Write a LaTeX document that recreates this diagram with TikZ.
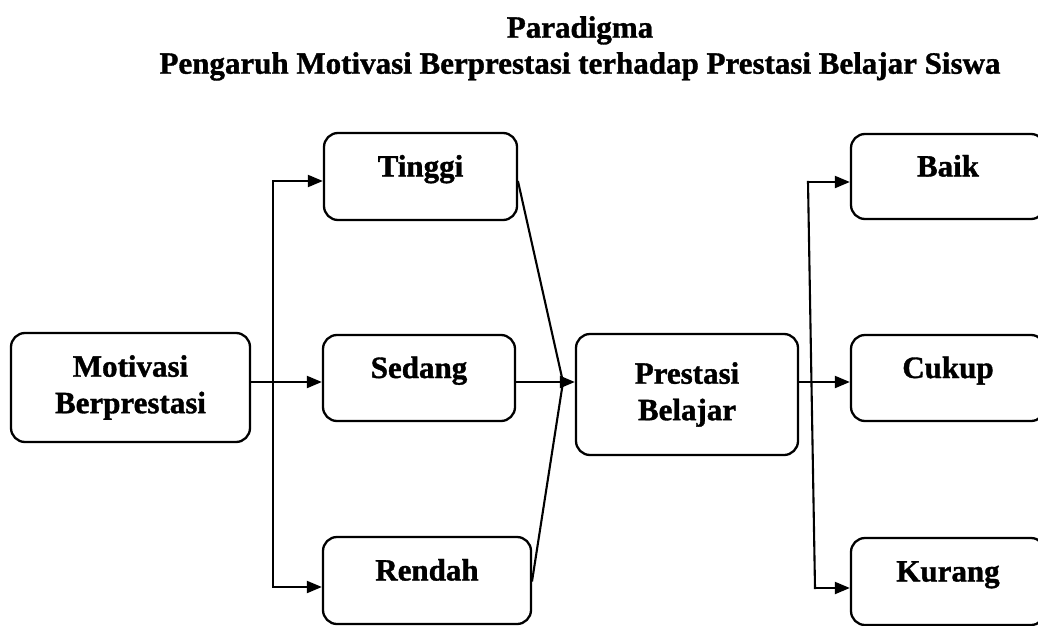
\documentclass[tikz,border=0pt]{standalone}
\usepackage{fontspec}
\setmainfont{Liberation Serif}[BoldFeatures={FakeBold=1.2}]
\usetikzlibrary{arrows.meta}

\begin{document}
\begin{tikzpicture}[x=1pt,y=-1pt,
    box/.style={draw, line width=2.3pt, rounded corners=14pt, inner sep=0pt,
      font=\fontsize{31}{36.5}\selectfont\bfseries, align=center},
    onerow/.style={box, text height=10pt, text depth=10pt},
    ln/.style={line width=2.1pt, line cap=rect},
    arr/.style={ln, -{Triangle[length=15pt,width=12pt]}}]
  \useasboundingbox (0,0) rectangle (1038,626);
  \clip (0,0) rectangle (1038,626);

  \node[anchor=north, inner sep=0pt, align=center,
    font=\fontsize{31}{36}\selectfont\bfseries] (title) at (580,16)
    {Paradigma\\Pengaruh Motivasi Berprestasi terhadap Prestasi Belajar Siswa};

  \node[box, minimum width=239pt, minimum height=109pt] (motiv) at (130.5,387.5) {Motivasi\\Berprestasi};
  \node[onerow, minimum width=193pt, minimum height=87pt] (tinggi) at (420.5,176.5) {Tinggi};
  \node[onerow, minimum width=192pt, minimum height=86pt] (sedang) at (419,378) {Sedang};
  \node[onerow, minimum width=208pt, minimum height=87pt] (rendah) at (427,580.5) {Rendah};
  \node[box, minimum width=222pt, minimum height=121pt] (prest) at (687,394.5) {Prestasi\\Belajar};
  \node[onerow, minimum width=194pt, minimum height=85pt] (baik) at (948,176.5) {Baik};
  \node[onerow, minimum width=194pt, minimum height=86pt] (cukup) at (948,378) {Cukup};
  \node[onerow, minimum width=194pt, minimum height=87pt] (kurang) at (948,581.5) {Kurang};

  \coordinate (lsplit) at (273,382);
  \coordinate (merge) at (563,382);
  \coordinate (rtop) at (808,182);
  \coordinate (rbot) at (815,588);

  \draw[ln] (motiv.east |- lsplit) -- (lsplit);
  \draw[arr] (lsplit) -- (sedang.west |- lsplit);
  \draw[arr] (lsplit) |- ([yshift=-4.5pt]tinggi.west);
  \draw[arr] (lsplit) |- ([yshift=-6.5pt]rendah.west);

  \draw[ln] ([yshift=-5.5pt]tinggi.east) -- (merge);
  \draw[ln] (rendah.east) -- (merge);
  \draw[arr] (sedang.east |- lsplit) -- (prest.west |- lsplit);

  \draw[arr] (prest.east |- lsplit) -- (cukup.west |- lsplit);
  \draw[ln] (rtop) -- (rbot);
  \draw[arr] (rtop) -- (baik.west |- rtop);
  \draw[arr] (rbot) -- (kurang.west |- rbot);
\end{tikzpicture}
\end{document}
